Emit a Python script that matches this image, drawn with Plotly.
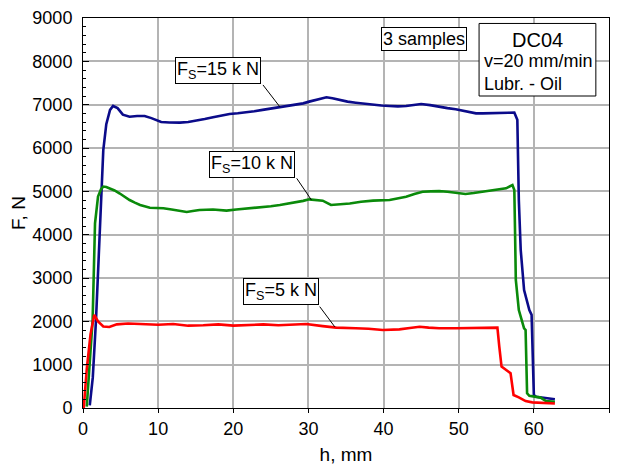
import plotly.graph_objects as go

# ---- data ----
x_15 = [0.9, 1.3, 1.73, 2.26, 2.7, 3.1, 3.6, 4.0, 4.6, 5.3, 6.2, 7.2, 8.2, 9.1, 10.4, 11.5, 12.9, 14.0,
        15.1, 16.2, 17.3, 18.4, 19.5, 20.6, 21.7, 22.8, 23.9, 25.0, 26.2, 27.3, 28.4, 29.3, 30.1, 31.2,
        32.4, 33.2, 34.1, 35.2, 36.3, 37.5, 38.6, 39.7, 40.8, 41.9, 43.0, 44.0, 45.0, 46.2, 47.4, 48.5,
        49.6, 51.0, 52.3, 53.2, 54.0, 54.9, 55.8, 56.6, 57.4, 57.8, 58.0, 58.25, 58.7, 59.4, 59.7, 60.0,
        60.3, 61.5, 62.8]
y_15 = [60, 700, 2030, 4270, 5950, 6550, 6880, 6970, 6920, 6770, 6720, 6740, 6740, 6690, 6600, 6590,
        6585, 6600, 6630, 6670, 6710, 6750, 6785, 6800, 6820, 6850, 6880, 6910, 6950, 6980, 7010, 7030,
        7070, 7110, 7170, 7150, 7110, 7070, 7045, 7020, 6990, 6980, 6970, 6960, 6970, 6990, 7015, 6990,
        6950, 6920, 6895, 6850, 6800, 6800, 6800, 6810, 6815, 6815, 6820, 6650, 4800, 3650, 2720, 2260,
        2150, 300, 260, 230, 200]

x_10 = [0.5, 0.9, 1.28, 1.6, 2.0, 2.4, 2.7, 3.1, 3.6, 4.2, 4.9, 5.5, 6.2, 6.9, 7.6, 8.9, 10.7, 11.8,
        12.9, 13.8, 14.6, 15.5, 17.3, 19.1, 20.4, 21.7, 22.8, 23.9, 25.0, 26.2, 27.3, 28.4, 29.3, 30.1,
        31.0, 31.9, 33.0, 34.2, 35.5, 37.0, 38.6, 40.8, 42.0, 43.0, 44.1, 45.2, 46.3, 47.4, 48.5, 49.6,
        50.9, 52.0, 53.2, 54.9, 56.3, 57.15, 57.4, 57.5, 57.6, 58.0, 58.7, 58.9, 59.1, 59.4, 60.9, 61.6,
        62.8]
y_10 = [30, 1000, 2030, 4260, 4880, 5050, 5110, 5100, 5070, 5020, 4950, 4880, 4800, 4740, 4685, 4620,
        4610, 4580, 4555, 4525, 4545, 4570, 4580, 4555, 4580, 4600, 4615, 4630, 4655, 4685, 4715, 4745,
        4780, 4815, 4800, 4785, 4685, 4700, 4720, 4760, 4785, 4800, 4840, 4875, 4940, 4990, 5000, 5005,
        4990, 4970, 4940, 4960, 4990, 5030, 5070, 5145, 5030, 4030, 2955, 2260, 1840, 1800, 340, 280,
        240, 160, 145]

x_5 = [0.1, 0.5, 1.0, 1.5, 2.0, 2.7, 3.5, 4.5, 6, 8, 10, 12, 14, 16, 18, 20, 22, 24, 26, 28, 29.7,
       31.9, 33.7, 36.3, 38, 39.9, 42.1, 43.5, 44.8, 46, 47.4, 49.6, 51.5, 53.2, 55.15, 55.4, 55.7, 56.9,
       57.3, 58.0, 58.9, 59.8, 62.8]
y_5 = [0, 900, 1700, 2150, 2000, 1880, 1870, 1930, 1950, 1930, 1920, 1940, 1900, 1910, 1930, 1900,
       1920, 1930, 1910, 1920, 1940, 1890, 1855, 1840, 1830, 1800, 1815, 1845, 1875, 1855, 1840, 1840,
       1850, 1855, 1855, 1415, 955, 800, 300, 245, 160, 130, 105]

x_ticks = [0, 10, 20, 30, 40, 50, 60, 70]
y_ticks = [0, 1000, 2000, 3000, 4000, 5000, 6000, 7000, 8000, 9000]

labels = ["F<sub>S</sub>=15 k N", "F<sub>S</sub>=10 k N", "F<sub>S</sub>=5 k N"]
label_pos = [(17.97, 7780), (22.45, 5630), (26.3, 2700)]
leader_from = [(23.95, 7455), (28.44, 5300), (31.5, 2340)]
leader_to = [(26.2, 6950), (30.4, 4800), (33.5, 1875)]

FONT = "Arial, Liberation Sans, sans-serif"

fig = go.Figure()
for xs, ys, col in [(x_15, y_15, "#0b0b8a"), (x_10, y_10, "#0a8a0a"), (x_5, y_5, "#ff0000")]:
    fig.add_trace(go.Scatter(x=xs, y=ys, mode="lines", line=dict(color=col, width=2.6),
                             showlegend=False))

shapes = []
for (x0, y0), (x1, y1) in zip(leader_from, leader_to):
    shapes.append(dict(type="line", xref="x", yref="y", x0=x0, y0=y0, x1=x1, y1=y1,
                       line=dict(color="black", width=1)))
# info box
shapes.append(dict(type="rect", xref="paper", yref="paper", x0=0.753, x1=0.975, y0=0.80, y1=0.986,
                   line=dict(color="black", width=1), fillcolor="white", layer="above"))

annotations = []
for txt, (ax_, ay_) in zip(labels, label_pos):
    annotations.append(dict(x=ax_, y=ay_, xref="x", yref="y", text=txt, showarrow=False,
                            xanchor="center", yanchor="middle",
                            font=dict(family=FONT, size=18, color="black"),
                            bgcolor="white", bordercolor="black", borderwidth=1, borderpad=1))
annotations.append(dict(x=0.648, y=0.946, xref="paper", yref="paper", text="3 samples",
                        xanchor="center", yanchor="middle",
                        showarrow=False, font=dict(family=FONT, size=18, color="black"),
                        bgcolor="white", bordercolor="black", borderwidth=1, borderpad=1))
annotations.append(dict(x=0.864, y=0.944, xref="paper", yref="paper", text="DC04",
                        xanchor="center", yanchor="middle",
                        showarrow=False, font=dict(family=FONT, size=20, color="black")))
annotations.append(dict(x=0.7586, y=0.859, xref="paper", yref="paper", xanchor="left",
                        yanchor="middle", align="left", text="v=20 mm/min<br>Lubr. - Oil",
                        showarrow=False, font=dict(family=FONT, size=18, color="black")))

fig.update_layout(
    width=617, height=466,
    margin=dict(l=83, r=8, t=18, b=58),
    paper_bgcolor="white", plot_bgcolor="white",
    font=dict(family=FONT, size=18, color="black"),
    shapes=shapes, annotations=annotations,
    xaxis=dict(range=[0, 70], tickvals=x_ticks, showgrid=True, gridcolor="#b4b4b4", gridwidth=1.5,
               showline=True, linecolor="black", linewidth=1, mirror=True, automargin=False,
               ticks="outside", ticklen=4, tickcolor="black", zeroline=False,
               title=dict(text="h, mm", font=dict(size=19), standoff=10),
               tickfont=dict(size=18)),
    yaxis=dict(range=[0, 9000], tickvals=y_ticks, showgrid=True, gridcolor="#b4b4b4", gridwidth=1.5,
               showline=True, linecolor="black", linewidth=1, mirror=True, automargin=False,
               ticks="inside", ticklen=6, tickcolor="black", zeroline=False,
               ticklabelstandoff=6,
               minor=dict(dtick=200, ticks="inside", ticklen=3, tickcolor="black", showgrid=False),
               title=dict(text="F, N", font=dict(size=19), standoff=1),
               tickfont=dict(size=18)),
)

fig.write_html("out.html")
